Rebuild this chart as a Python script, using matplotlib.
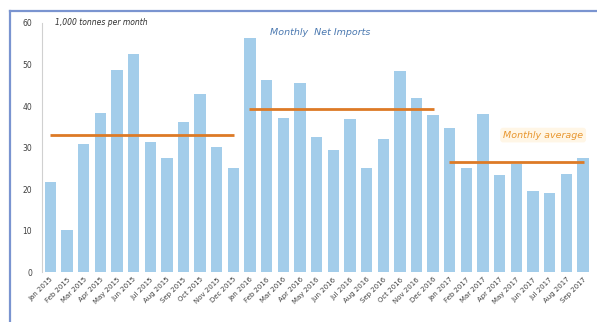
import matplotlib
matplotlib.use("Agg")
import matplotlib.pyplot as plt
from matplotlib.lines import Line2D

months = ["Jan", "Feb", "Mar", "Apr", "May", "Jun", "Jul", "Aug", "Sep", "Oct", "Nov", "Dec"]
labels = [f"{m} {y}" for y in (2015, 2016) for m in months] + [f"{m} 2017" for m in months[:9]]

imports_2015 = [21.7, 10.1, 30.8, 38.3, 48.7, 52.5, 31.3, 27.5, 36.1, 42.9, 30.1, 25.0]
imports_2016 = [56.4, 46.3, 37.1, 45.5, 32.5, 29.4, 36.9, 25.0, 32.0, 48.4, 41.9, 37.8]
imports_2017 = [34.7, 25.0, 38.0, 23.4, 26.0, 19.6, 19.1, 23.6, 27.6]
values = imports_2015 + imports_2016 + imports_2017

avg_values = [33.0, 39.3, 26.5]
avg_start = [0, 12, 24]
avg_end = [11, 23, 32]

yticks = [0, 10, 20, 30, 40, 50, 60]

fig = plt.figure(figsize=(5.97, 3.22), dpi=100)
ax = fig.add_axes([0.0704, 0.155, 0.92, 0.7736])

x = list(range(len(values)))
ax.bar(x, values, width=0.68, color="#a3cdea", zorder=2)

for v, s, e in zip(avg_values, avg_start, avg_end):
    ax.plot([s - 0.05, e + 0.05], [v, v], color="#dd7a26", lw=2.0, zorder=3, solid_capstyle="butt")

ax.set_xlim(-0.5, len(values) - 0.5)
ax.set_ylim(0, 60)
ax.set_yticks(yticks)
ax.set_yticklabels([str(t) for t in yticks], fontsize=5.5, color="#404040")
ax.set_xticks(x)
ax.set_xticklabels(labels, rotation=45, ha="right", rotation_mode="anchor", fontsize=5.0, color="#404040")
ax.tick_params(axis="both", length=0, pad=7)
ax.tick_params(axis="x", pad=3)

for side in ("top", "right", "bottom"):
    ax.spines[side].set_visible(False)
ax.spines["left"].set_color("#d0d0d0")
ax.spines["left"].set_linewidth(0.8)

ax.text(0.3, 60, "1,000 tonnes per month", fontsize=5.5, style="italic", color="#303030", va="center")
ax.text(13.2, 57.6, "Monthly  Net Imports", fontsize=6.8, style="italic", color="#4a78b0", va="center")
ax.text(27.2, 33.0, "Monthly average", fontsize=6.8, style="italic", color="#e8962e", va="center",
        bbox=dict(boxstyle="round,pad=0.3", fc="#fff6e6", ec="none"))

# frame lines (top and left) of the original slide
fig.add_artist(Line2D([10 / 597, 1.0], [1 - 10.5 / 322, 1 - 10.5 / 322], color="#7a94d0", lw=1.6, transform=fig.transFigure))
fig.add_artist(Line2D([10 / 597, 10 / 597], [0, 1 - 10.5 / 322], color="#7a94d0", lw=1.6, transform=fig.transFigure))

fig.savefig("out.png", dpi=100)
